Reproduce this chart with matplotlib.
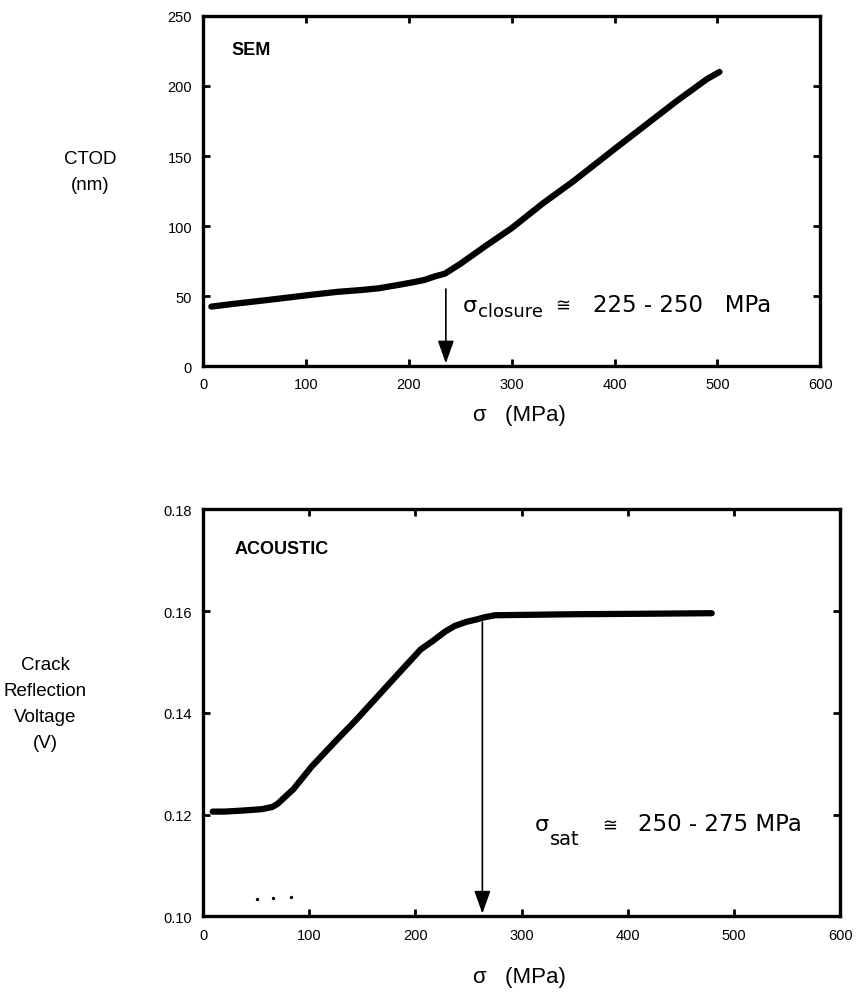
import matplotlib.pyplot as plt

plt.rcParams['font.family'] = ['Liberation Sans', 'DejaVu Sans']

# SEM: crack tip opening displacement vs stress
sem_stress = [8, 30, 60, 100, 130, 153, 170, 190, 205, 215, 225, 235, 250, 275, 300, 330, 360, 400, 430, 460, 490, 502]
sem_ctod = [42.5, 44.5, 47, 50.5, 53, 54.3, 55.5, 58, 60, 61.5, 64, 66, 73, 86, 98.5, 116, 132, 155, 172, 189, 205, 210]

# acoustic: crack reflection voltage vs stress
ac_stress = [9, 20, 37, 50, 56, 65, 70, 85, 102, 125, 144, 165, 186, 205, 216, 228, 237, 248, 258, 265, 275, 350, 420, 479]
ac_volt = [0.1206, 0.1206, 0.1208, 0.1210, 0.1211, 0.1215, 0.1221, 0.1250, 0.1294, 0.1345, 0.1386, 0.1434, 0.1482, 0.1525, 0.1541, 0.1560, 0.1571, 0.1579, 0.1584, 0.1588, 0.1592, 0.1594, 0.1595, 0.1596]

# stray specks near the bottom of the acoustic panel
speck_x = [51, 66, 83]
speck_y = [0.1035, 0.1037, 0.1039]

sem_closure = 236
sem_arrow_top = 57
ac_sat = 263


def style_axes(ax):
    for s in ax.spines.values():
        s.set_linewidth(2.4)
    ax.tick_params(direction='in', length=5, width=2, top=True, right=True,
                   labelsize=10.5, pad=8)


def label(ax, anchor, sub, sub_dy, sub_size, dx_cong, value, dx_value):
    kw = dict(xy=anchor, textcoords='offset points', va='baseline', ha='left',
              family='DejaVu Sans')
    ax.annotate('σ', xytext=(0, 0), fontsize=16, **kw)
    ax.annotate(sub, xytext=(10.8, sub_dy), fontsize=sub_size, **kw)
    ax.annotate('≅', xytext=(dx_cong, 0), fontsize=13, **kw)
    ax.annotate(value, xytext=(dx_value, 0), fontsize=16.5, **kw)


fig = plt.figure(figsize=(8.68, 9.95), dpi=100)

ax1 = fig.add_axes([0.234, 0.631, 0.711, 0.352])
ax1.plot(sem_stress, sem_ctod, color='black', lw=4.5, solid_capstyle='round')
ax1.set_xlim(0, 600)
ax1.set_ylim(0, 250)
ax1.set_xticks(range(0, 601, 100))
ax1.set_yticks(range(0, 251, 50))
style_axes(ax1)
ax1.annotate('', xy=(sem_closure, 0), xytext=(sem_closure, sem_arrow_top),
             arrowprops=dict(arrowstyle='-|>,head_length=1.4,head_width=0.5',
                             color='black', lw=1.2))
ax1.text(28, 226, 'SEM', fontsize=13, fontweight='bold', va='center')
label(ax1, (252.8, 39.3), 'closure', -3.6, 13, 66.5, '225 - 250   MPa', 93.6)
fig.text(0.104, 0.827, 'CTOD\n(nm)', fontsize=13.5, ha='center', va='center',
         linespacing=1.7)
fig.text(0.598, 0.582, 'σ   (MPa)', fontsize=16, ha='center', va='center')

ax2 = fig.add_axes([0.234, 0.078, 0.734, 0.409])
ax2.plot(ac_stress, ac_volt, color='black', lw=4.5, solid_capstyle='round')
ax2.scatter(speck_x, speck_y, s=2, color='black')
ax2.set_xlim(0, 600)
ax2.set_ylim(0.10, 0.18)
ax2.set_xticks(range(0, 601, 100))
ax2.set_yticks([0.10, 0.12, 0.14, 0.16, 0.18])
ax2.set_yticklabels(['0.10', '0.12', '0.14', '0.16', '0.18'])
style_axes(ax2)
ax2.annotate('', xy=(ac_sat, 0.10), xytext=(ac_sat, 0.1584),
             arrowprops=dict(arrowstyle='-|>,head_length=1.4,head_width=0.5',
                             color='black', lw=1.2))
ax2.text(30, 0.1724, 'ACOUSTIC', fontsize=13, fontweight='bold', va='center')
label(ax2, (312.7, 0.1169), 'sat', -10, 14, 48.5, '250 - 275 MPa', 74)
fig.text(0.052, 0.292, 'Crack\nReflection\nVoltage\n(V)', fontsize=13.5,
         ha='center', va='center', linespacing=1.7)
fig.text(0.598, 0.018, 'σ   (MPa)', fontsize=16, ha='center', va='center')

fig.savefig('out.png', dpi=100)
